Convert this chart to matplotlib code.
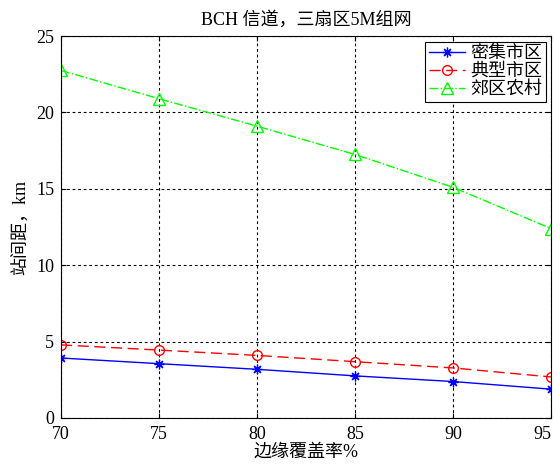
import matplotlib
matplotlib.use("Agg")
import matplotlib.pyplot as plt

plt.rcParams['font.family'] = ['Liberation Serif', 'Noto Sans CJK SC']
plt.rcParams['axes.unicode_minus'] = False

coverage = [70, 75, 80, 85, 90, 95]
dense_urban = [3.92, 3.55, 3.18, 2.75, 2.38, 1.88]
typical_urban = [4.78, 4.44, 4.09, 3.68, 3.27, 2.68]
suburban_rural = [22.75, 20.9, 19.1, 17.25, 15.1, 12.4]
labels = ['密集市区', '典型市区', '郊区农村']

fig = plt.figure(figsize=(5.55, 4.69), dpi=100)
ax = fig.add_axes([0.110, 0.109, 0.883, 0.814])

# matlab-style asterisk: 8 arms
ax.plot(coverage, dense_urban, color='blue', linestyle='-', marker=(8, 2, 0),
        markersize=7, markeredgewidth=0.9, linewidth=1, label=labels[0])
ax.plot(coverage, typical_urban, color='red', linestyle=(0, (8, 4)), marker='o',
        markersize=7, markerfacecolor='none', linewidth=1, label=labels[1])
ax.plot(coverage, suburban_rural, color='#00ff00', linestyle='-.', marker='^',
        markersize=8, markerfacecolor='none', linewidth=1, label=labels[2])

ax.set_xlim(70, 95)
ax.set_ylim(0, 25)
ax.set_xticks(coverage)
ax.set_yticks([0, 5, 10, 15, 20, 25])
ax.grid(True, color='black', linestyle=(0, (2.5, 2.5)), linewidth=0.8)
ax.tick_params(direction='in', labelsize=13, top=True, right=True)
ax.tick_params(axis='x', pad=6)
ax.tick_params(axis='y', pad=5)
for s in ax.spines.values():
    s.set_linewidth(0.8)

# last x label sits against the right edge, keep it inside the canvas
ax.get_xticklabels()[-1].set_horizontalalignment('right')

ax.set_title('BCH 信道，三扇区5M组网', fontsize=13, pad=8)
ax.set_xlabel('边缘覆盖率%', fontsize=13, labelpad=0)
ax.set_ylabel('站间距，km', fontsize=13, labelpad=4)

leg = ax.legend(loc='upper right', fontsize=13, fancybox=False, framealpha=1,
                edgecolor='black', borderpad=0.2, labelspacing=0.05,
                handlelength=2.0, handletextpad=0.3, borderaxespad=0.3)
leg.get_frame().set_linewidth(0.8)

fig.savefig('out.png', dpi=100, facecolor='white')
